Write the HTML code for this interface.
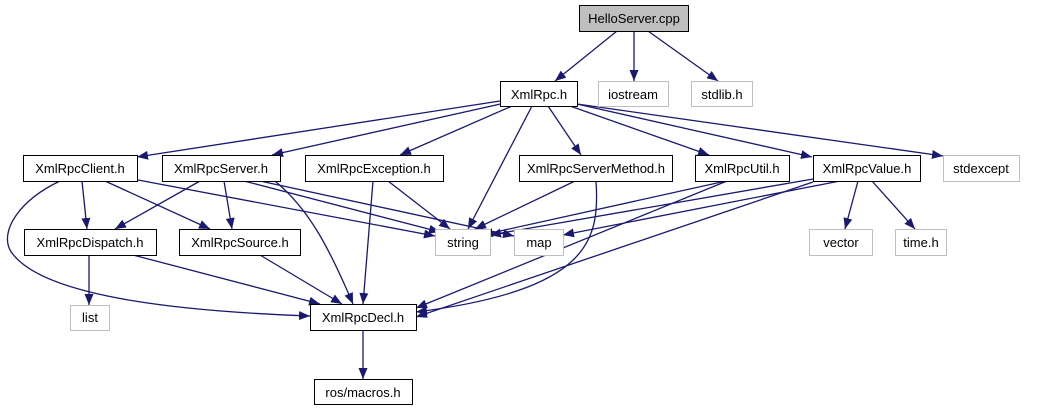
<!DOCTYPE html>
<html><head><meta charset="utf-8"><style>
html,body{margin:0;padding:0;background:#fff;}
svg{display:block;font-family:"Liberation Sans",sans-serif;}
</style></head><body>
<svg width="1050" height="411" viewBox="0 0 1050 411" xmlns="http://www.w3.org/2000/svg">
<defs><marker id="a" markerWidth="11" markerHeight="9" refX="11" refY="4.5" orient="auto" markerUnits="userSpaceOnUse"><path d="M0,0 L11,4.5 L0,9 z" fill="#191970"/></marker></defs>
<g stroke="#191970" stroke-width="1.3" fill="none" marker-end="url(#a)">
<path d="M617,31 L555,81"/>
<path d="M634,31 L634,81"/>
<path d="M648,31 L718,81"/>
<path d="M500,101 L137,157"/>
<path d="M505,103 L272,155"/>
<path d="M512,106 L400,155"/>
<path d="M532,106 L468,229"/>
<path d="M548,106 L581,155"/>
<path d="M570,106 L709,155"/>
<path d="M577,104 L812,157"/>
<path d="M577,104 L943,156"/>
<path d="M82,181 L87,229"/>
<path d="M105,181 L210,229"/>
<path d="M138,180 L435,236"/>
<path d="M60,181 C20,200 0,230 10,250 C40,300 200,312 310,316"/>
<path d="M200,181 L115,229"/>
<path d="M224,181 L232,229"/>
<path d="M244,181 L440,232"/>
<path d="M260,181 L514,236"/>
<path d="M275,181 C310,210 330,250 353,304"/>
<path d="M388,181 L450,229"/>
<path d="M373,181 L363,304"/>
<path d="M575,181 L475,229"/>
<path d="M596,181 C600,240 590,290 416,312"/>
<path d="M726,181 L482,235"/>
<path d="M727,181 L416,308"/>
<path d="M813,179 L490,235"/>
<path d="M840,181 L563,235"/>
<path d="M813,182 L416,317"/>
<path d="M858,181 L845,229"/>
<path d="M872,181 L915,229"/>
<path d="M89,255 L89,305"/>
<path d="M133,255 L320,304"/>
<path d="M260,255 L342,304"/>
<path d="M363,330 L363,379"/>
</g>
<g font-size="13" text-anchor="middle">
<rect x="579.5" y="5.5" width="109" height="26" fill="#bfbfbf" stroke="#000"/><text x="634" y="23">HelloServer.cpp</text>
<rect x="500.5" y="81.5" width="77" height="25" fill="#fff" stroke="#000"/><text x="539" y="99">XmlRpc.h</text>
<rect x="598.5" y="81.5" width="70" height="25" fill="#fff" stroke="#bfbfbf"/><text x="633" y="99">iostream</text>
<rect x="691.5" y="81.5" width="61" height="25" fill="#fff" stroke="#bfbfbf"/><text x="722" y="99">stdlib.h</text>
<rect x="23.5" y="155.5" width="114" height="26" fill="#fff" stroke="#000"/><text x="80" y="173">XmlRpcClient.h</text>
<rect x="162.5" y="155.5" width="118" height="26" fill="#fff" stroke="#000"/><text x="221" y="173">XmlRpcServer.h</text>
<rect x="305.5" y="155.5" width="138" height="26" fill="#fff" stroke="#000"/><text x="374" y="173">XmlRpcException.h</text>
<rect x="519.5" y="155.5" width="153" height="26" fill="#fff" stroke="#000"/><text x="596" y="173">XmlRpcServerMethod.h</text>
<rect x="695.5" y="155.5" width="94" height="26" fill="#fff" stroke="#000"/><text x="742" y="173">XmlRpcUtil.h</text>
<rect x="813.5" y="155.5" width="107" height="26" fill="#fff" stroke="#000"/><text x="867" y="173">XmlRpcValue.h</text>
<rect x="943.5" y="155.5" width="76" height="26" fill="#fff" stroke="#bfbfbf"/><text x="981" y="173">stdexcept</text>
<rect x="24.5" y="229.5" width="132" height="26" fill="#fff" stroke="#000"/><text x="90" y="247">XmlRpcDispatch.h</text>
<rect x="179.5" y="229.5" width="121" height="26" fill="#fff" stroke="#000"/><text x="240" y="247">XmlRpcSource.h</text>
<rect x="435.5" y="229.5" width="55" height="26" fill="#fff" stroke="#bfbfbf"/><text x="463" y="247">string</text>
<rect x="514.5" y="229.5" width="49" height="26" fill="#fff" stroke="#bfbfbf"/><text x="539" y="247">map</text>
<rect x="809.5" y="229.5" width="63" height="26" fill="#fff" stroke="#bfbfbf"/><text x="841" y="247">vector</text>
<rect x="895.5" y="229.5" width="51" height="26" fill="#fff" stroke="#bfbfbf"/><text x="921" y="247">time.h</text>
<rect x="70.5" y="305.5" width="39" height="25" fill="#fff" stroke="#bfbfbf"/><text x="90" y="322">list</text>
<rect x="310.5" y="304.5" width="106" height="26" fill="#fff" stroke="#000"/><text x="363" y="322">XmlRpcDecl.h</text>
<rect x="314.5" y="379.5" width="98" height="25" fill="#fff" stroke="#000"/><text x="363" y="397">ros/macros.h</text>
</g>
</svg>
</body></html>
